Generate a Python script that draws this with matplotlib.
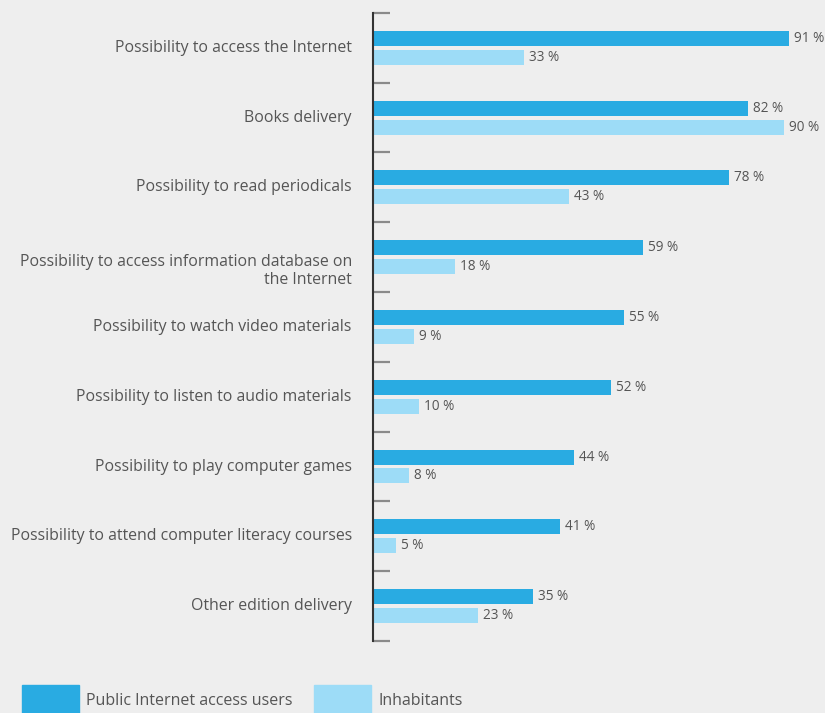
import numpy as np
import matplotlib.pyplot as plt
from matplotlib.patches import Patch

plt.rcParams['font.family'] = ['Open Sans', 'DejaVu Sans']

categories = [
    'Possibility to access the Internet',
    'Books delivery',
    'Possibility to read periodicals',
    'Possibility to access information database on\nthe Internet',
    'Possibility to watch video materials',
    'Possibility to listen to audio materials',
    'Possibility to play computer games',
    'Possibility to attend computer literacy courses',
    'Other edition delivery',
]
internet_users = [91, 82, 78, 59, 55, 52, 44, 41, 35]
inhabitants = [33, 90, 43, 18, 9, 10, 8, 5, 23]
series_names = ['Public Internet access users', 'Inhabitants']

bg = '#eeeeee'
dark_blue = '#29abe2'
light_blue = '#9ddcf7'
text_col = '#555555'

fig = plt.figure(figsize=(8.25, 7.13), dpi=100, facecolor=bg)
ax = fig.add_axes([0.452, 0.101, 0.548, 0.881], facecolor=bg)

y = np.arange(len(categories))
h = 0.215
off = 0.136
ax.barh(y - off, internet_users, height=h, color=dark_blue)
ax.barh(y + off, inhabitants, height=h, color=light_blue)

for yi, v in zip(y - off, internet_users):
    ax.text(v + 1.1, yi, f'{v} %', va='center', ha='left', fontsize=9.8, color=text_col)
for yi, v in zip(y + off, inhabitants):
    ax.text(v + 1.1, yi, f'{v} %', va='center', ha='left', fontsize=9.8, color=text_col)

# category names sit left of the axis, right aligned
for yi, name in zip(y, categories):
    shift = 0.2 if '\n' in name else 0.0
    ax.text(-4.6, yi + shift, name, va='center', ha='right', multialignment='right',
            fontsize=11.4, color=text_col, linespacing=1.1, clip_on=False)

ax.set_xlim(0, 98.9)
ax.set_ylim(len(categories) - 0.5, -0.5)
ax.set_yticks(np.arange(-0.5, len(categories), 1.0))
ax.set_yticklabels([])
ax.tick_params(axis='y', direction='in', length=12, width=1.6, color='#8a8a8a', left=True)
ax.set_xticks([])
for s in ['top', 'right', 'bottom']:
    ax.spines[s].set_visible(False)
ax.spines['left'].set_color('#333333')
ax.spines['left'].set_linewidth(1.5)

handles = [Patch(color=dark_blue), Patch(color=light_blue)]
fig.legend(handles, series_names, loc='lower left', bbox_to_anchor=(0.009, -0.022),
           ncol=2, frameon=False, fontsize=11.5, labelcolor=text_col,
           handlelength=3.6, handleheight=2.4, handletextpad=0.45, columnspacing=1.3)

fig.savefig('out.png', dpi=100, facecolor=bg)
